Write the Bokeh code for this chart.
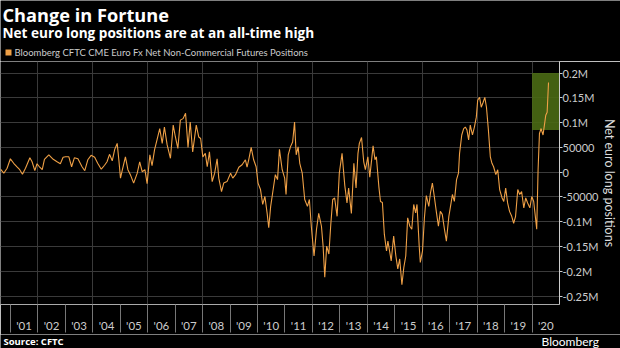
from bokeh.plotting import figure
from bokeh.layouts import column
from bokeh.models import (Range1d, FixedTicker, CustomJSTickFormatter)
from bokeh.core.properties import value
from bokeh.embed import file_html
from bokeh.resources import INLINE

# ---- data ----
dates = [
    2000.64, 2000.76, 2000.88, 2001.00, 2001.12, 2001.25, 2001.34, 2001.44, 2001.55, 2001.71,
    2001.79, 2001.89, 2001.97, 2002.07, 2002.16, 2002.24, 2002.40, 2002.56, 2002.70, 2002.82,
    2002.92, 2003.01, 2003.13, 2003.23, 2003.33, 2003.46, 2003.61, 2003.71, 2003.82, 2003.94,
    2004.07, 2004.18, 2004.31, 2004.43, 2004.52, 2004.61, 2004.71, 2004.80, 2004.89, 2004.95,
    2005.01, 2005.08, 2005.19, 2005.28, 2005.37, 2005.49, 2005.62, 2005.71, 2005.80, 2005.90,
    2005.98, 2006.08, 2006.16, 2006.25, 2006.34, 2006.44, 2006.53, 2006.61, 2006.71, 2006.83,
    2006.93, 2007.01, 2007.10, 2007.19, 2007.29, 2007.38,
    2007.47, 2007.55, 2007.64, 2007.77, 2007.86, 2007.93, 2008.01, 2008.10, 2008.17, 2008.25,
    2008.35, 2008.44, 2008.53, 2008.59, 2008.69, 2008.77, 2008.89, 2009.02, 2009.10, 2009.20,
    2009.32, 2009.44, 2009.56, 2009.62, 2009.68, 2009.77, 2009.86, 2009.95, 2010.02, 2010.11,
    2010.19, 2010.27, 2010.35, 2010.41, 2010.48, 2010.56, 2010.65, 2010.73, 2010.80, 2010.90,
    2010.99, 2011.04, 2011.12, 2011.20, 2011.28, 2011.35, 2011.41, 2011.48, 2011.54, 2011.63,
    2011.72, 2011.82, 2011.89, 2011.96, 2012.06, 2012.15, 2012.23, 2012.33, 2012.39, 2012.45,
    2012.52, 2012.60, 2012.67, 2012.74, 2012.81, 2012.90, 2012.98, 2013.08, 2013.18, 2013.26,
    2013.32, 2013.42, 2013.51, 2013.59, 2013.66, 2013.71, 2013.79, 2013.87, 2013.93, 2014.02,
    2014.09,
    2014.21, 2014.28, 2014.33, 2014.42, 2014.48, 2014.55, 2014.62, 2014.70, 2014.75, 2014.82,
    2014.87, 2014.96, 2015.04, 2015.11, 2015.18, 2015.26, 2015.33, 2015.40, 2015.47, 2015.55,
    2015.62, 2015.69, 2015.76, 2015.81, 2015.89, 2015.93, 2016.01, 2016.08, 2016.15, 2016.24,
    2016.30, 2016.37, 2016.44, 2016.52, 2016.59, 2016.66, 2016.73, 2016.81, 2016.88, 2016.97,
    2017.03, 2017.10, 2017.17, 2017.25, 2017.32, 2017.36, 2017.44, 2017.51, 2017.57, 2017.63,
    2017.69, 2017.75, 2017.83, 2017.90, 2017.97, 2018.02, 2018.09, 2018.15, 2018.22, 2018.28,
    2018.34, 2018.41, 2018.48, 2018.54, 2018.60, 2018.68, 2018.75, 2018.82, 2018.91, 2018.97,
    2019.04, 2019.11, 2019.18, 2019.26, 2019.33, 2019.40, 2019.48, 2019.55, 2019.62, 2019.70,
    2019.77, 2019.84, 2019.92, 2019.99, 2020.06, 2020.12, 2020.17, 2020.22, 2020.27, 2020.33,
    2020.40, 2020.45, 2020.50, 2020.55, 2020.60,
]
net_positions = [
    6000, -2000, 8000, 27000, 18000, 10000, 5000, -4000, 8000, 29000,
    21000, 3000, 17000, 10000, 5000, 26000, 35000, 26000, 21000, 17000,
    30000, 31000, 31000, 11000, 29000, 27000, 11000, 3000, 25000, 34000,
    30000, 18000, 6000, 14000, 21000, 36000, 23000, 46000, 58000, 25000,
    -12000, 5000, 31000, 5000, -5000, -22000, -2000, 21000, 1000, 5000,
    -23000, 35000, 13000, 45000, 65000, 88000, 58000, 91000, 55000, 28000,
    95000, 71000, 48000, 105000, 108000, 119000,
    50000, 101000, 41000, 95000, 71000, 68000, 31000, 38000, 11000, 41000,
    -19000, -2000, 27000, -12000, -39000, -22000, -19000, -2000, -12000, -5000,
    10000, 15000, 25000, 10000, 25000, 50000, 25000, 11000, -22000, -35000,
    -65000, -49000, -82000, -112000, -69000, -39000, -5000, -15000, 46000, 5000,
    -12000, -45000, 35000, 51000, 61000, 101000, 35000, 51000, 18000, -2000,
    -55000, -69000, -55000, -109000, -169000, -115000, -83000, -109000, -149000, -212000,
    -149000, -165000, -105000, -55000, -52000, -89000, -2000, 38000, -27000, -62000,
    -32000, -83000, 18000, -32000, 38000, 58000, 70000, 21000, 5000, 31000,
    -10000,
    53000, 25000, 31000, -29000, -59000, -61000, -125000, -159000, -139000, -162000,
    -179000, -129000, -169000, -195000, -175000, -227000, -192000, -169000, -92000, -109000,
    -115000, -65000, -82000, -65000, -149000, -182000, -159000, -92000, -47000, -69000,
    -42000, -22000, -49000, -82000, -109000, -79000, -85000, -115000, -139000, -89000,
    -69000, -45000, -59000, -15000, -2000, 38000, 75000, 88000, 91000, 85000,
    65000, 95000, 75000, 91000, 111000, 145000, 151000, 131000, 141000, 151000,
    131000, 85000, 31000, 18000, 11000, -5000, 5000, -35000, -52000, -59000,
    -32000, -62000, -79000, -89000, -103000, -89000, -35000, -45000, -39000, -72000,
    -52000, -62000, -72000, -49000, -59000, -89000, -115000, 5000, 78000, 88000,
    75000, 95000, 115000, 121000, 181000,
]
year_starts = [2001, 2002, 2003, 2004, 2005, 2006, 2007, 2008, 2009, 2010,
               2011, 2012, 2013, 2014, 2015, 2016, 2017, 2018, 2019, 2020]
year_label_pos = [2001.5, 2002.5, 2003.5, 2004.5, 2005.5, 2006.5, 2007.5, 2008.5, 2009.5, 2010.5,
                  2011.5, 2012.5, 2013.5, 2014.5, 2015.5, 2016.5, 2017.5, 2018.5, 2019.5, 2020.5]
year_labels = ["'01", "'02", "'03", "'04", "'05", "'06", "'07", "'08", "'09", "'10",
               "'11", "'12", "'13", "'14", "'15", "'16", "'17", "'18", "'19", "'20"]
grid_years = [2002, 2004, 2006, 2008, 2010, 2012, 2014, 2016, 2018, 2020]
y_ticks = [-250000, -200000, -150000, -100000, -50000, 0, 50000, 100000, 150000, 200000]
y_tick_labels = ["-0.25M", "-0.2M", "-0.15M", "-0.1M", "-50000", "0", "50000", "0.1M", "0.15M", "0.2M"]
highlight_x = [2020.0, 2021.0]
highlight_y = [85000, 200000]
series_name = "Bloomberg CFTC CME Euro Fx Net Non-Commercial Futures Positions"

ORANGE = "#efa046"
FONT = "Lato"
HEAD_FONT = "Open Sans"
BG = "black"
W = 620


def blank(height):
    f = figure(width=W, height=height, x_range=Range1d(0, W), y_range=Range1d(height, 0),
               x_axis_type=None, y_axis_type=None, output_backend="svg", toolbar_location=None,
               background_fill_color=BG, border_fill_color=BG, outline_line_color=None,
               min_border=0, frame_align=False)
    f.xgrid.visible = False
    f.ygrid.visible = False
    return f


def txt(f, s, x, y, size, color="white", style="normal", font=FONT):
    f.text(x=[x], y=[y], text=[s], text_font=value(font), text_font_size=size,
           text_font_style=style, text_color=color, text_baseline="middle", text_align="left")


# ---- header ----
head = blank(61)
txt(head, "Change in Fortune", 2, 14, "18.2px", style="bold", font=HEAD_FONT)
txt(head, "Net euro long positions are at an all-time high", 2, 32, "13.6px", style="bold", font=HEAD_FONT)
head.quad(left=[5], right=[11], bottom=[55], top=[49], fill_color=ORANGE, line_color=None)
txt(head, series_name, 14, 52, "9.5px", color="#cccccc")

# ---- main chart ----
p = figure(width=W, height=273,
           x_range=Range1d(2000.64, 2021.0), y_range=Range1d(-266800, 223200),
           y_axis_location="right", output_backend="svg", toolbar_location=None,
           background_fill_color=BG, border_fill_color=BG, outline_line_color=None,
           min_border_left=0, min_border_right=61, min_border_top=0, min_border_bottom=28,
           frame_align=False)

xa = p.xaxis[0]
xa.ticker = FixedTicker(ticks=year_label_pos, minor_ticks=year_starts)
xa.formatter = CustomJSTickFormatter(
    args=dict(pos=year_label_pos, labels=year_labels),
    code="for (let i = 0; i < pos.length; i++) { if (Math.abs(pos[i] - tick) < 1e-6) return labels[i]; } return '';")
xa.major_tick_out = 0
xa.major_tick_in = 0
xa.minor_tick_out = 28
xa.minor_tick_in = 0
xa.minor_tick_line_color = "#777777"
xa.axis_line_color = "#aaaaaa"
xa.major_label_text_color = "#cccccc"
xa.major_label_text_font = FONT
xa.major_label_text_font_size = "11.5px"
xa.major_label_standoff = -14

ya = p.yaxis[0]
ya.ticker = FixedTicker(ticks=y_ticks)
ya.formatter = CustomJSTickFormatter(
    args=dict(pos=y_ticks, labels=y_tick_labels),
    code="for (let i = 0; i < pos.length; i++) { if (Math.abs(pos[i] - tick) < 1e-6) return labels[i]; } return '';")
ya.major_tick_out = 3
ya.major_tick_in = 0
ya.minor_tick_out = 0
ya.minor_tick_in = 0
ya.major_tick_line_color = "#cccccc"
ya.axis_line_color = "#cccccc"
ya.major_label_standoff = 0
ya.major_label_text_color = "#cccccc"
ya.major_label_text_font = FONT
ya.major_label_text_font_size = "11px"
ya.axis_label = "Net euro long positions"
ya.axis_label_standoff = 0
ya.axis_label_text_font = FONT
ya.axis_label_text_font_style = "normal"
ya.axis_label_text_font_size = "12.5px"
ya.axis_label_text_color = "#dddddd"

p.xgrid.ticker = FixedTicker(ticks=grid_years)
p.ygrid.ticker = FixedTicker(ticks=y_ticks)
p.xgrid.grid_line_color = "#3a3a3a"
p.ygrid.grid_line_color = "#3a3a3a"

p.quad(left=[highlight_x[0]], right=[highlight_x[1]], bottom=[highlight_y[0]], top=[highlight_y[1]],
       fill_color="#4a6a14", fill_alpha=0.9, line_color=None)
p.line(dates, net_positions, line_color=ORANGE, line_width=1.1)

# ---- footer ----
foot = blank(14)
txt(foot, "Source: CFTC", 3, 7, "9.5px", style="bold", font=HEAD_FONT)
txt(foot, "Bloomberg", 541, 7, "12px")

layout = column(head, p, foot, spacing=0)
open("out.html", "w").write(file_html(layout, INLINE))
